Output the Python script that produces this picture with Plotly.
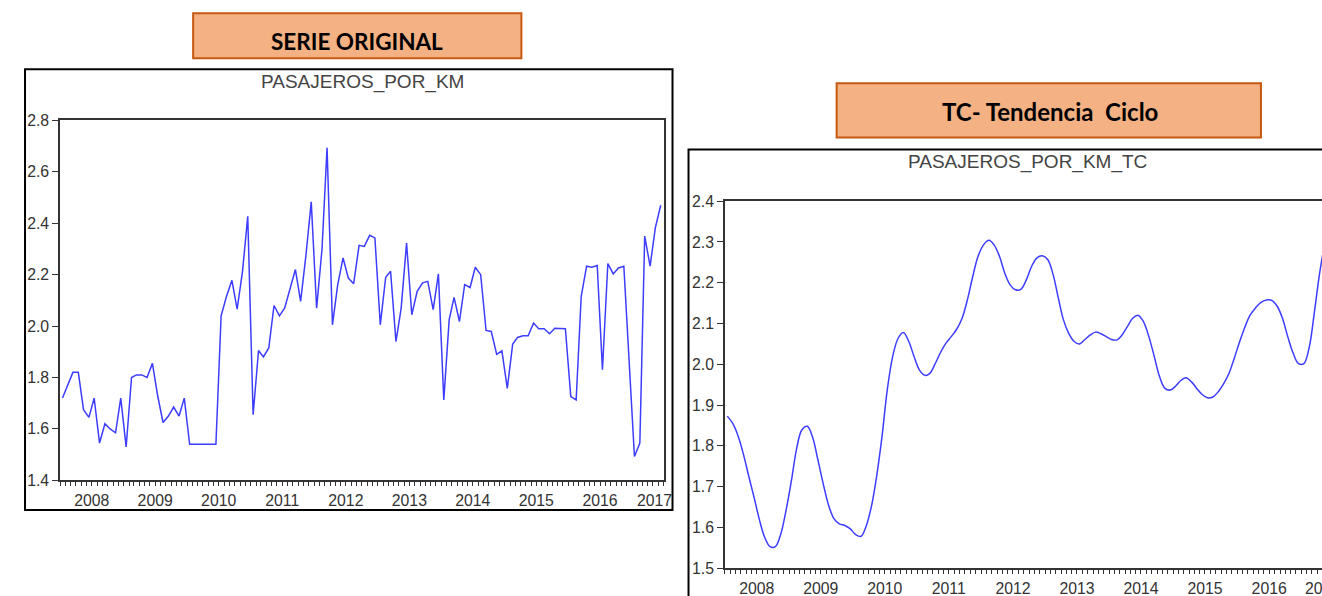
import pandas as pd
import plotly.graph_objects as go

# the captured window is a little larger than the final picture and gets scaled down,
# so the layout is drawn in window pixels and placed from picture pixels
WIN_W, WIN_H = 1340, 614
PIC_W, PIC_H = 1322, 596
SX, SY = PIC_W / WIN_W, PIC_H / WIN_H
TOP = 9  # gap above the plot div
W, H = WIN_W, WIN_H - TOP

# monthly observations, Jan 2008 onwards
start_month = "2008-01-01"

pasajeros_por_km = [
    1.72, 1.77, 1.82, 1.82, 1.675, 1.645, 1.72, 1.545, 1.62, 1.60, 1.585, 1.72,
    1.53, 1.80, 1.81, 1.81, 1.80, 1.855, 1.73, 1.625, 1.65, 1.685, 1.65, 1.72,
    1.54, 1.54, 1.54, 1.54, 1.54, 1.54, 2.04, 2.116, 2.178, 2.066, 2.213, 2.427,
    1.655, 1.905, 1.88, 1.915, 2.08, 2.04, 2.07, 2.148, 2.22, 2.096, 2.278, 2.483,
    2.07, 2.30, 2.694, 2.005, 2.16, 2.265, 2.187, 2.165, 2.314, 2.31, 2.353, 2.343,
    2.005, 2.19, 2.213, 1.94, 2.07, 2.323, 2.044, 2.135, 2.168, 2.174, 2.064, 2.203,
    1.713, 2.025, 2.112, 2.018, 2.161, 2.15, 2.229, 2.20, 1.983, 1.979, 1.89, 1.904,
    1.758, 1.93, 1.956, 1.962, 1.962, 2.012, 1.99, 1.99, 1.97, 1.992, 1.992, 1.99,
    1.726, 1.713, 2.116, 2.233, 2.229, 2.236, 1.83, 2.243, 2.203, 2.226, 2.233, 1.876,
    1.493, 1.545, 2.35, 2.233, 2.382, 2.47,
]

pasajeros_por_km_tc = [
    1.873, 1.855, 1.826, 1.781, 1.728, 1.675, 1.621, 1.576, 1.553, 1.553, 1.584, 1.642,
    1.716, 1.797, 1.839, 1.848, 1.822, 1.765, 1.707, 1.654, 1.621, 1.609, 1.605, 1.597,
    1.583, 1.578, 1.601, 1.650, 1.724, 1.822, 1.937, 2.019, 2.064, 2.078, 2.056, 2.019,
    1.986, 1.973, 1.978, 2.002, 2.029, 2.052, 2.068, 2.086, 2.113, 2.158, 2.216, 2.265,
    2.293, 2.304, 2.293, 2.265, 2.224, 2.195, 2.183, 2.184, 2.207, 2.240, 2.261, 2.266,
    2.257, 2.220, 2.166, 2.109, 2.076, 2.056, 2.050, 2.061, 2.072, 2.079, 2.075, 2.068,
    2.061, 2.060, 2.072, 2.093, 2.113, 2.120, 2.105, 2.068, 2.019, 1.970, 1.941, 1.937,
    1.947, 1.961, 1.967, 1.957, 1.941, 1.926, 1.918, 1.920, 1.933, 1.952, 1.978, 2.015,
    2.056, 2.093, 2.121, 2.139, 2.152, 2.158, 2.157, 2.143, 2.113, 2.068, 2.027, 2.002,
    2.002, 2.043, 2.125, 2.224, 2.300,
]

years = ["2008", "2009", "2010", "2011", "2012", "2013", "2014", "2015", "2016", "2017"]


def month_dates(n):
    # EViews draws each month in the middle of its slot
    return pd.date_range(start_month, periods=n, freq="MS") + pd.Timedelta(days=14)


# picture pixel -> paper coordinate
def px(x):
    return (x / SX) / W


def py(y):
    return 1 - (y / SY - TOP) / H


BLUE = "#3d3dff"
AXIS = "#333333"
tick_font = dict(family="Liberation Sans, Arial", size=15.8, color="#333333")

fig = go.Figure()
fig.add_trace(go.Scatter(x=month_dates(len(pasajeros_por_km)), y=pasajeros_por_km,
                         mode="lines", line=dict(color=BLUE, width=1.5),
                         xaxis="x", yaxis="y", showlegend=False))
fig.add_trace(go.Scatter(x=month_dates(len(pasajeros_por_km_tc)), y=pasajeros_por_km_tc,
                         mode="lines", line=dict(color=BLUE, width=1.5, shape="spline"),
                         xaxis="x2", yaxis="y2", showlegend=False))

left_range = ["2008-01-01", "2017-07-01"]
right_range = ["2008-01-01", "2017-05-04"]

left_labels_at = [f"{y}-07-01" for y in years[:-1]] + ["2017-05-10"]
right_labels_at = [f"{y}-07-01" for y in years[:-1]] + ["2017-05-02"]


# label axes (year text centered in each year, monthly minor ticks)
def label_axis(domain, anchor, rng, at, mirror):
    return dict(domain=domain, anchor=anchor, type="date", range=rng,
                tickmode="array", tickvals=at, ticktext=years, ticks="",
                tickfont=tick_font, ticklabeloverflow="allow", ticklabelstandoff=5,
                showgrid=False, zeroline=False,
                showline=True, linecolor=AXIS, linewidth=1.5, mirror=mirror,
                minor=dict(ticks="outside", dtick="M1", tick0="2008-01-01",
                           ticklen=4, tickcolor=AXIS, showgrid=False))


# tick axes (longer ticks at year boundaries)
def year_tick_axis(over, anchor, rng):
    return dict(overlaying=over, anchor=anchor, type="date", range=rng,
                dtick="M12", tick0="2008-01-01", ticks="outside", ticklen=7,
                tickcolor=AXIS, showticklabels=False, showgrid=False,
                zeroline=False, showline=False)


def value_axis(domain, anchor, rng, step, mirror):
    return dict(domain=domain, anchor=anchor, range=rng, dtick=step,
                tickformat=".1f", ticks="outside", ticklen=6, tickcolor=AXIS,
                tickfont=tick_font, showgrid=False, zeroline=False,
                showline=True, linecolor=AXIS, linewidth=1.5, mirror=mirror)


fig.update_layout(
    width=W, height=H,
    margin=dict(l=0, r=0, t=0, b=0),
    paper_bgcolor="white", plot_bgcolor="white",
    xaxis=label_axis([px(60), px(663)], "y", left_range, left_labels_at, True),
    yaxis=value_axis([py(480.5), py(121)], "x", [1.4, 2.8], 0.2, True),
    xaxis2=label_axis([px(724.3), 1], "y2", right_range, right_labels_at, True),
    yaxis2=value_axis([py(568.3), py(201.7)], "x2", [1.5, 2.4], 0.1, False),
    xaxis3=year_tick_axis("x", "y", left_range),
    xaxis4=year_tick_axis("x2", "y2", right_range),
)

# outer chart frames
fig.add_shape(type="rect", xref="paper", yref="paper",
              x0=px(25), x1=px(672), y0=py(510), y1=py(70),
              line=dict(color="black", width=2), fillcolor="rgba(0,0,0,0)", layer="below")
fig.add_shape(type="rect", xref="paper", yref="paper",
              x0=px(688), x1=px(1345), y0=py(620), y1=py(150),
              line=dict(color="black", width=2), fillcolor="rgba(0,0,0,0)", layer="below")

# orange header boxes
fig.add_shape(type="rect", xref="paper", yref="paper",
              x0=px(193), x1=px(521), y0=py(59), y1=py(14),
              line=dict(color="#c65911", width=2), fillcolor="#f4b183")
fig.add_shape(type="rect", xref="paper", yref="paper",
              x0=px(836), x1=px(1260), y0=py(138), y1=py(84),
              line=dict(color="#c65911", width=2), fillcolor="#f4b183")

header_font = dict(family="Lato, Open Sans", size=22.5, color="black")
fig.add_annotation(x=px(357), y=py(42), xref="paper", yref="paper",
                   xanchor="center", yanchor="middle",
                   text="<b>SERIE ORIGINAL</b>", showarrow=False, font=header_font)
fig.add_annotation(x=px(1049), y=py(112), xref="paper", yref="paper",
                   xanchor="center", yanchor="middle",
                   text="<b>TC- Tendencia\u00a0 Ciclo</b>", showarrow=False,
                   font=dict(header_font, size=24))

title_font = dict(family="Liberation Sans, Arial", size=19, color="#444444")
fig.add_annotation(x=px(362), y=py(83), xref="paper", yref="paper",
                   xanchor="center", yanchor="middle",
                   text="PASAJEROS_POR_KM", showarrow=False, font=title_font)
fig.add_annotation(x=px(1027), y=py(163), xref="paper", yref="paper",
                   xanchor="center", yanchor="middle",
                   text="PASAJEROS_POR_KM_TC", showarrow=False, font=title_font)

fig.write_html("out.html", config={"displayModeBar": False},
               post_script="document.body.style.margin='0';")
